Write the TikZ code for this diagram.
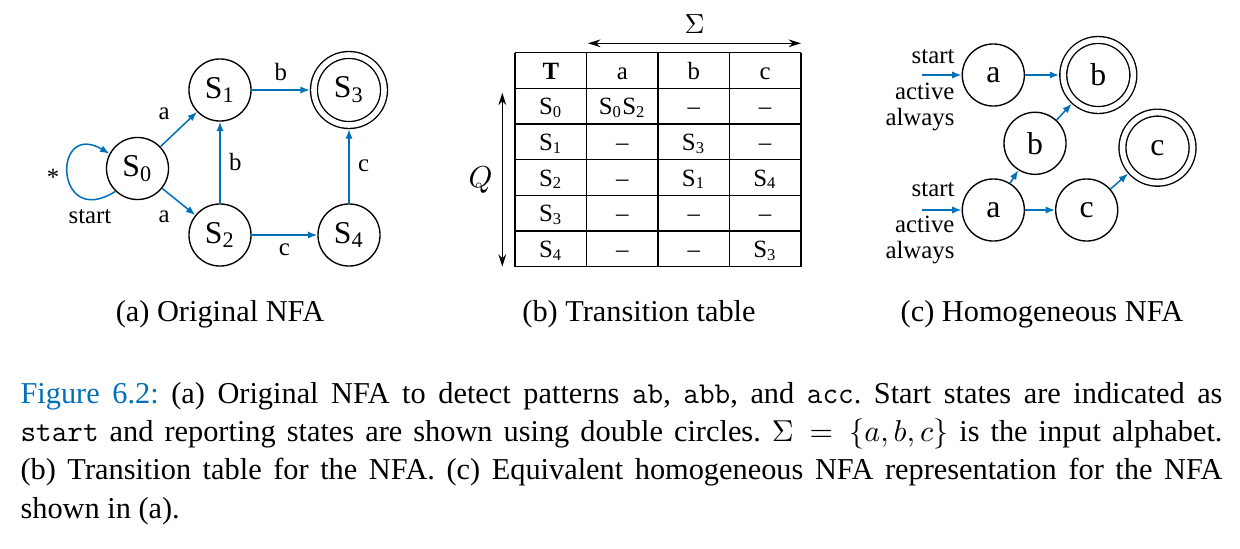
\documentclass[tikz,border=0pt]{standalone}
\usepackage{fontspec}
\setmainfont{Liberation Serif}
\usetikzlibrary{arrows.meta,calc}
\definecolor{figblue}{RGB}{0,112,184}
\newcommand{\Sx}[1]{S\textsubscript{#1}}
\frenchspacing
\tikzset{
	stnode/.style={circle,draw,line width=0.5pt,minimum size=22.5pt,inner sep=0pt,font=\fontsize{11.5}{13}\selectfont},
	accnode/.style={stnode,double,double distance=2pt,minimum size=25.4pt,outer sep=1.5pt},
	trans/.style={draw=figblue,line width=0.55pt,-{Latex[length=3.4pt,width=2.6pt]}},
	dbl/.style={line width=0.5pt,{Stealth[length=4.5pt,width=2.8pt]}-{Stealth[length=4.5pt,width=2.8pt]}},
	lbl/.style={font=\fontsize{9}{9.3}\selectfont,inner sep=3pt},
	cell/.style={font=\fontsize{9}{10}\selectfont,anchor=base,inner sep=0pt},
	sub/.style={font=\fontsize{11}{13}\selectfont,anchor=base}
}
\begin{document}
\begin{tikzpicture}[x=0.3625pt,y=-0.3625pt]
	\useasboundingbox (0,0) rectangle (1240,548);
	% (a) original NFA
	\node[stnode] (S0) at (137.5,168.5) {\Sx{0}};
	\node[stnode] (S1) at (220,90) {\Sx{1}};
	\node[stnode] (S2) at (220,235) {\Sx{2}};
	\node[accnode] (S3) at (349,90) {\Sx{3}};
	\node[stnode] (S4) at (349,235) {\Sx{4}};
	\draw[trans] (S0) -- node[lbl,above left] {a} (S1);
	\draw[trans] (S0) -- node[lbl,below left] {a} (S2);
	\draw[trans] (S1) -- node[lbl,above] {b} (S3);
	\draw[trans] (S2) -- node[lbl,right] {b} (S1);
	\draw[trans] (S2) -- node[lbl,below] {c} (S4);
	\draw[trans] (S4) -- node[lbl,right] {c} (S3);
	\draw[trans] (S0.226) .. controls ($(S0.226)+(-61,39)$) and ($(S0.152)+(-58,-34)$) .. (S0.152);
	\node[lbl] (star) at (53,177) {*};
	\node[lbl] (start0) at (90,217) {start};
	\node[sub] (capa) at (220,321.7) {(a) Original NFA};
	% (b) transition table
	\foreach \i in {0,...,4} \draw[line width=0.5pt] (515+71.45*\i,52.7) -- (515+71.45*\i,266.7);
	\foreach \j in {0,...,6} \draw[line width=0.5pt] (515,52.7+35.67*\j) -- (800.8,52.7+35.67*\j);
	\foreach \t [count=\c from 0] in {\textbf{T},a,b,c} \node[cell] (c-0-\c) at (550.8+71.45*\c,79) {\t};
	\foreach \t [count=\c from 0] in {\Sx{0},\Sx{0}\Sx{2},--,--} \node[cell] (c-1-\c) at (550.8+71.45*\c,114.7) {\t};
	\foreach \t [count=\c from 0] in {\Sx{1},--,\Sx{3},--} \node[cell] (c-2-\c) at (550.8+71.45*\c,150.4) {\t};
	\foreach \t [count=\c from 0] in {\Sx{2},--,\Sx{1},\Sx{4}} \node[cell] (c-3-\c) at (550.8+71.45*\c,186) {\t};
	\foreach \t [count=\c from 0] in {\Sx{3},--,--,--} \node[cell] (c-4-\c) at (550.8+71.45*\c,221.7) {\t};
	\foreach \t [count=\c from 0] in {\Sx{4},--,--,\Sx{3}} \node[cell] (c-5-\c) at (550.8+71.45*\c,257.4) {\t};
	\coordinate (sigL) at (588,43.3);
	\coordinate (sigR) at (801,43.3);
	\draw[dbl] (sigL) -- node[above,font=\fontsize{10}{11}\selectfont] (sigma) {$\Sigma$} (sigR);
	\coordinate (qT) at (502.3,92.7);
	\coordinate (qB) at (502.3,266.7);
	\draw[dbl] (qT) -- node[left,font=\fontsize{11}{13}\selectfont] (qlab) {$Q$} (qB);
	\node[sub] (capb) at (639,321.7) {(b) Transition table};
	% (c) homogeneous NFA
	\node[stnode] (aT) at (993.3,75) {a};
	\node[accnode] (bT) at (1098.3,75) {b};
	\node[stnode] (bM) at (1035,143.3) {b};
	\node[accnode] (cR) at (1157.5,147.7) {c};
	\node[stnode] (aB) at (993.3,210) {a};
	\node[stnode] (cB) at (1086.7,210) {c};
	\coordinate (inT) at (921.7,75);
	\coordinate (inB) at (921.7,210);
	\draw[trans] (inT) -- (aT);
	\draw[trans] (inB) -- (aB);
	\draw[trans] (aT) -- (bT);
	\draw[trans] (bM) -- (bT);
	\draw[trans] (aB) -- (bM);
	\draw[trans] (aB) -- (cB);
	\draw[trans] (cB) -- (cR);
	\node[lbl,anchor=base east,inner sep=0pt] (stT) at (955,63.3) {start};
	\node[lbl,anchor=base east,inner sep=0pt,align=right] (alT) at (955,125) {active\\always};
	\node[lbl,anchor=base east,inner sep=0pt] (stB) at (955,196.7) {start};
	\node[lbl,anchor=base east,inner sep=0pt,align=right] (alB) at (955,258.3) {active\\always};
	\node[sub] (capc) at (1042,321.7) {(c) Homogeneous NFA};
	% caption
	\node[anchor=base west,text width=435.7pt,align=justify,inner sep=0pt,font=\fontsize{11}{13.9}\selectfont] (cap) at (20,403.3)
		{{\color{figblue}Figure 6.2:} (a) Original NFA to detect patterns \texttt{ab}, \texttt{abb}, and \texttt{acc}. Start states are indicated as\linebreak
		\texttt{start} and reporting states are shown using double circles. $\Sigma=\{a,b,c\}$ is the input alphabet.\linebreak
		(b) Transition table for the NFA. (c) Equivalent homogeneous NFA representation for the NFA\linebreak
		shown in (a).};
\end{tikzpicture}
\end{document}
